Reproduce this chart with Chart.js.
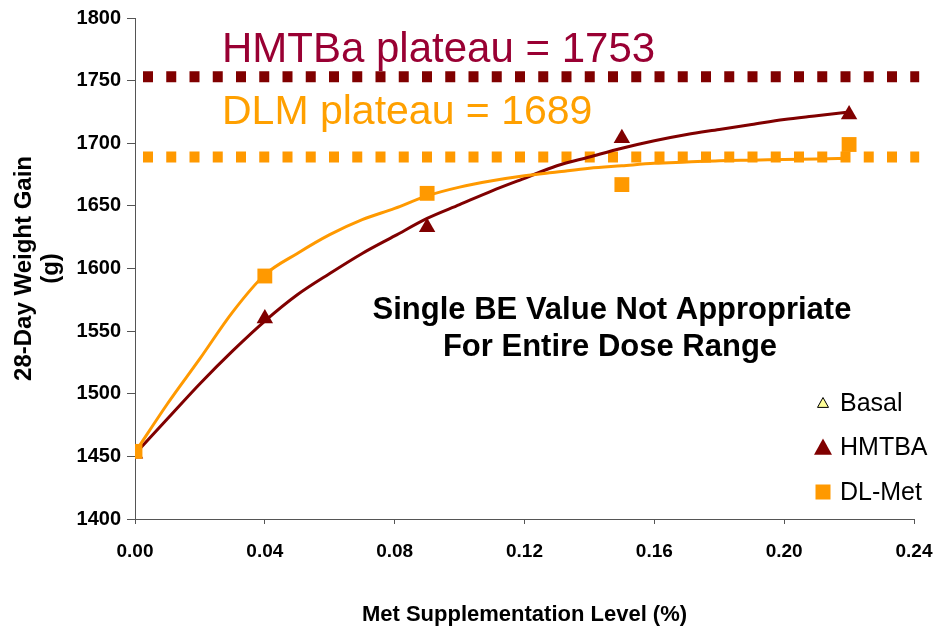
<!DOCTYPE html>
<html>
<head>
<meta charset="utf-8">
<title>28-Day Weight Gain vs Met Supplementation</title>
<script src="https://cdn.jsdelivr.net/npm/chart.js@4.4.1/dist/chart.umd.min.js"></script>
<style>
  html, body { margin: 0; padding: 0; background: #fff; }
  #wrap { width: 936px; height: 633px; }
</style>
</head>
<body>
<div id="wrap"><canvas id="weightChart" width="936" height="633"></canvas></div>
<script>
// observed means
const doseLevels = [0, 0.04, 0.09, 0.15, 0.22];
const hmtbaGain = [1452, 1560, 1633, 1704, 1723];
const dlmGain = [1454, 1594, 1660, 1667, 1699];
const basalDose = [0];
const basalGain = [1452];

// fitted response curves
const curveDoses = [0, 0.01, 0.02, 0.03, 0.04, 0.05, 0.06, 0.07, 0.08, 0.09, 0.10, 0.11,
  0.12, 0.13, 0.14, 0.15, 0.16, 0.17, 0.18, 0.19, 0.20, 0.21, 0.22];
const hmtbaFit = [1452, 1480, 1508, 1534, 1558, 1579, 1596, 1612, 1626, 1640, 1651, 1662,
  1672, 1682, 1689, 1696, 1702, 1707, 1711, 1715, 1719, 1722, 1725];
const dlmFit = [1453, 1492, 1528, 1565, 1595, 1612, 1627, 1639, 1648, 1658, 1665, 1670,
  1674, 1677, 1680, 1682, 1684, 1685, 1686, 1686.5, 1687, 1687.5, 1688];

const hmtbaPlateau = 1753;
const dlmPlateau = 1689;
// plateau lines run a touch past the last tick, as in the original
const plateauSpan = [0, 0.2416];

const yTicks = [1400, 1450, 1500, 1550, 1600, 1650, 1700, 1750, 1800];
const xTicks = [0, 0.04, 0.08, 0.12, 0.16, 0.20, 0.24];
const xTickLabels = ['0.00', '0.04', '0.08', '0.12', '0.16', '0.20', '0.24'];

const darkRed = '#800000';
const orange = '#FF9900';
const plateauRed = '#990033';
const plateauOrange = '#FFA000';
const fontFam = '"Liberation Sans", Arial, sans-serif';

const pts = (xs, ys) => xs.map((x, i) => ({ x, y: ys[i] }));

// annotations: plateau labels + note
const notes = {
  id: 'notes',
  afterDraw(chart) {
    const ctx = chart.ctx;
    ctx.save();
    ctx.textBaseline = 'alphabetic';
    ctx.textAlign = 'left';
    ctx.font = '42px ' + fontFam;
    ctx.fillStyle = plateauRed;
    ctx.fillText('HMTBa plateau = ' + hmtbaPlateau, 222, 62);
    ctx.font = '41px ' + fontFam;
    ctx.fillStyle = plateauOrange;
    ctx.fillText('DLM plateau = ' + dlmPlateau, 222, 124);

    ctx.font = 'bold 31px ' + fontFam;
    ctx.fillStyle = '#000';
    ctx.textAlign = 'center';
    ctx.fillText('Single BE Value Not Appropriate', 612, 319);
    ctx.fillText('For Entire Dose Range', 610, 356);
    ctx.restore();
  }
};

// legend drawn inside the plot, lower right
const innerLegend = {
  id: 'innerLegend',
  afterDraw(chart) {
    const ctx = chart.ctx;
    const items = chart.data.datasets.filter(d => d.legendRow !== undefined);
    ctx.save();
    ctx.font = '25px ' + fontFam;
    ctx.textBaseline = 'middle';
    ctx.textAlign = 'left';
    items.forEach(d => {
      const y = 403 + d.legendRow * 44.5;
      const x = 823;
      const r = d.legendSize;
      ctx.fillStyle = d.backgroundColor;
      ctx.strokeStyle = d.borderColor;
      ctx.lineWidth = 1;
      ctx.beginPath();
      if (d.pointStyle === 'triangle') {
        ctx.moveTo(x, y - r);
        ctx.lineTo(x + r, y + r * 0.8);
        ctx.lineTo(x - r, y + r * 0.8);
        ctx.closePath();
      } else {
        ctx.rect(x - r, y - r, 2 * r, 2 * r);
      }
      ctx.fill();
      if (d.legendOutline) ctx.stroke();
      ctx.fillStyle = '#000';
      ctx.fillText(d.label, 840, y + 1);
    });
    ctx.restore();
  }
};

const ctx = document.getElementById('weightChart').getContext('2d');
new Chart(ctx, {
  type: 'scatter',
  data: {
    datasets: [
      {
        label: 'DL-Met',
        data: pts(doseLevels, dlmGain),
        pointStyle: 'rect',
        pointRadius: 10.5,
        backgroundColor: orange,
        borderColor: orange,
        borderWidth: 0,
        order: 1,
        legendRow: 2,
        legendSize: 7.5,
      },
      {
        label: 'HMTBA',
        data: pts(doseLevels, hmtbaGain),
        pointStyle: 'triangle',
        pointRadius: 9.5,
        backgroundColor: darkRed,
        borderColor: darkRed,
        borderWidth: 0,
        order: 2,
        legendRow: 1,
        legendSize: 9,
      },
      {
        label: 'Basal',
        data: pts(basalDose, basalGain),
        pointStyle: 'triangle',
        pointRadius: 6,
        backgroundColor: '#FFFF99',
        borderColor: '#000',
        borderWidth: 1,
        order: 5,
        legendRow: 0,
        legendSize: 5.5,
        legendOutline: true,
      },
      {
        label: 'DL-Met fit',
        data: pts(curveDoses, dlmFit),
        showLine: true,
        borderColor: orange,
        borderWidth: 3,
        pointRadius: 0,
        cubicInterpolationMode: 'monotone',
        order: 3,
      },
      {
        label: 'HMTBA fit',
        data: pts(curveDoses, hmtbaFit),
        showLine: true,
        borderColor: darkRed,
        borderWidth: 3,
        pointRadius: 0,
        cubicInterpolationMode: 'monotone',
        order: 4,
      },
      {
        label: 'HMTBa plateau',
        data: pts(plateauSpan, [hmtbaPlateau, hmtbaPlateau]),
        showLine: true,
        borderColor: darkRed,
        borderWidth: 11,
        borderDash: [10, 13.25],
        borderDashOffset: 15.25,
        borderCapStyle: 'butt',
        pointRadius: 0,
        clip: false,
        order: 6,
      },
      {
        label: 'DLM plateau',
        data: pts(plateauSpan, [dlmPlateau, dlmPlateau]),
        showLine: true,
        borderColor: orange,
        borderWidth: 11,
        borderDash: [10, 13.25],
        borderDashOffset: 15.25,
        borderCapStyle: 'butt',
        pointRadius: 0,
        clip: false,
        order: 7,
      },
    ],
  },
  plugins: [notes, innerLegend],
  options: {
    responsive: false,
    devicePixelRatio: 1,
    animation: false,
    layout: { padding: { top: 17, right: 22, left: 0, bottom: 0 } },
    plugins: {
      legend: { display: false },
      tooltip: { enabled: false },
    },
    scales: {
      x: {
        type: 'linear',
        min: 0,
        max: 0.24,
        afterFit: (s) => { s.height = 114; s.paddingRight = 0; s.paddingLeft = 0; },
        afterBuildTicks: (s) => { s.ticks = xTicks.map(v => ({ value: v })); },
        ticks: {
          callback: (v, i) => xTickLabels[i],
          font: { family: fontFam, size: 19, weight: 'bold' },
          color: '#000',
          padding: 16,
          maxRotation: 0,
        },
        grid: { drawOnChartArea: false, drawTicks: true, tickLength: 5, color: '#555' },
        border: { color: '#555', width: 1 },
        title: {
          display: true,
          text: 'Met Supplementation Level (%)',
          font: { family: fontFam, size: 22, weight: 'bold' },
          color: '#000',
          padding: { top: 0, bottom: 5 },
        },
      },
      y: {
        min: 1400,
        max: 1800,
        afterFit: (s) => { s.width = 135; },
        afterBuildTicks: (s) => { s.ticks = yTicks.map(v => ({ value: v })); },
        ticks: {
          callback: (v) => String(v),
          font: { family: fontFam, size: 20, weight: 'bold' },
          color: '#000',
          padding: 6,
        },
        grid: { drawOnChartArea: false, drawTicks: true, tickLength: 8, color: '#555' },
        border: { color: '#555', width: 1 },
        title: {
          display: true,
          text: ['28-Day Weight Gain', '(g)'],
          font: { family: fontFam, size: 24, weight: 'bold', lineHeight: 1.13 },
          color: '#000',
          padding: { top: 11, bottom: 0 },
        },
      },
    },
  },
});
</script>
</body>
</html>
